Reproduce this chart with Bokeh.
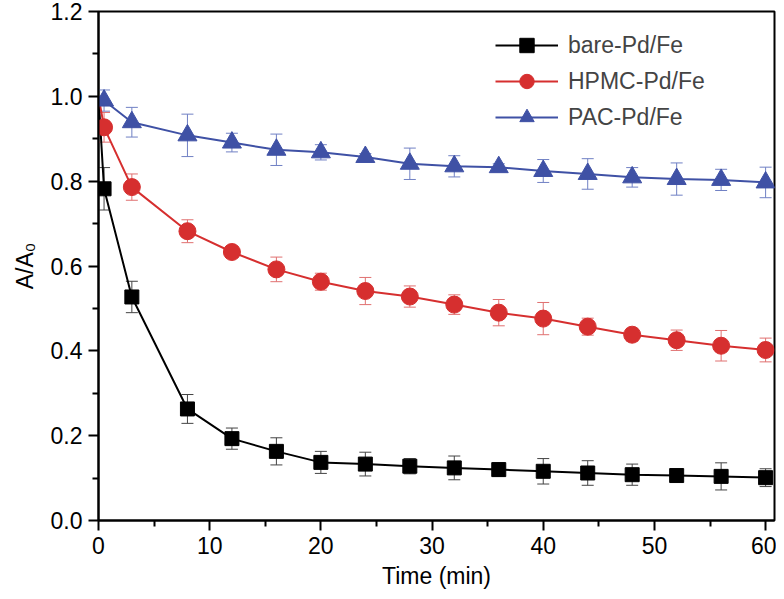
from bokeh.plotting import figure
from bokeh.models import (Range1d, FixedTicker, PrintfTickFormatter, Whisker, TeeHead,
                          ColumnDataSource, Legend, LegendItem)
from bokeh.embed import file_html
from bokeh.resources import INLINE

# ---------------- data ----------------
time = [0, 0.5, 3, 8, 12, 16, 20, 24, 28, 32, 36, 40, 44, 48, 52, 56, 60]

bare = [1.0, 0.782, 0.527, 0.263, 0.193, 0.163, 0.137, 0.133, 0.128, 0.124,
        0.120, 0.116, 0.112, 0.108, 0.106, 0.104, 0.101]
bare_err = [0, 0.050, 0.037, 0.034, 0.025, 0.032, 0.026, 0.028, 0.018, 0.028,
            0.016, 0.030, 0.029, 0.025, 0.005, 0.032, 0.021]

hpmc = [1.0, 0.927, 0.786, 0.682, 0.633, 0.592, 0.563, 0.541, 0.528, 0.509,
        0.490, 0.476, 0.457, 0.438, 0.425, 0.412, 0.402]
hpmc_err = [0, 0.035, 0.031, 0.027, 0.008, 0.029, 0.020, 0.032, 0.025, 0.023,
            0.031, 0.038, 0.020, 0.015, 0.024, 0.036, 0.028]

pac = [1.0, 0.990, 0.939, 0.908, 0.891, 0.874, 0.868, 0.857, 0.841, 0.835,
       0.833, 0.824, 0.817, 0.809, 0.805, 0.803, 0.797]
pac_err = [0, 0.025, 0.035, 0.050, 0.022, 0.037, 0.018, 0.008, 0.037, 0.025,
           0.008, 0.027, 0.036, 0.023, 0.038, 0.025, 0.036]

series_names = ["bare-Pd/Fe", "HPMC-Pd/Fe", "PAC-Pd/Fe"]

x_ticks = [0, 10, 20, 30, 40, 50, 60]
x_minor = [5, 15, 25, 35, 45, 55]
y_ticks = [0.0, 0.2, 0.4, 0.6, 0.8, 1.0, 1.2]
y_minor = [0.1, 0.3, 0.5, 0.7, 0.9, 1.1]

x_title = "Time (min)"
y_title = "A/A\u2080"

# ---------------- styling ----------------
FONT = "Liberation Sans"
FS = "23px"

p = figure(width=776, height=591, x_range=Range1d(0, 60.8), y_range=Range1d(0, 1.2),
           output_backend="svg", toolbar_location=None,
           min_border_left=98, min_border_right=2, min_border_top=11, min_border_bottom=71)
p.xgrid.visible = False
p.ygrid.visible = False
p.outline_line_color = "black"
p.outline_line_width = 2
p.outline_line_alpha = 1.0

for ax in (p.xaxis[0], p.yaxis[0]):
    ax.axis_line_width = 2
    ax.axis_line_color = "black"
    ax.major_tick_line_width = 2
    ax.minor_tick_line_width = 2
    ax.major_tick_line_color = "black"
    ax.minor_tick_line_color = "black"
    ax.major_tick_out = 10
    ax.major_tick_in = 0
    ax.minor_tick_out = 6
    ax.minor_tick_in = 0
    ax.major_label_text_font = FONT
    ax.major_label_text_font_size = FS
    ax.major_label_text_color = "black"
    ax.axis_label_text_font = FONT
    ax.axis_label_text_font_size = FS
    ax.axis_label_text_font_style = "normal"
    ax.axis_label_text_color = "black"
    ax.major_label_standoff = 6

p.xaxis[0].ticker = FixedTicker(ticks=x_ticks, minor_ticks=x_minor)
p.yaxis[0].ticker = FixedTicker(ticks=y_ticks, minor_ticks=y_minor)
p.yaxis[0].formatter = PrintfTickFormatter(format="%.1f")
p.xaxis[0].axis_label = x_title
p.yaxis[0].axis_label = y_title
p.xaxis[0].axis_label_standoff = 6
p.yaxis[0].axis_label_standoff = 10

styles = [
    dict(color="black", err="#444444", marker="square", size=14),
    dict(color="#d62f2f", err="#e07070", marker="circle", size=17),
    dict(color="#3f51a5", err="#7080c4", marker="triangle", size=19),
]
values = [bare, hpmc, pac]
errors = [bare_err, hpmc_err, pac_err]

items = []
for name, vals, errs, st in zip(series_names, values, errors, styles):
    src = ColumnDataSource(dict(
        x=time[1:], y=vals[1:],
        upper=[v + e for v, e in zip(vals[1:], errs[1:])],
        lower=[v - e for v, e in zip(vals[1:], errs[1:])],
    ))
    w = Whisker(base="x", upper="upper", lower="lower", source=src,
                line_color=st["err"], line_width=1,
                upper_head=TeeHead(size=12, line_color=st["err"], line_width=1),
                lower_head=TeeHead(size=12, line_color=st["err"], line_width=1))
    p.add_layout(w)
    ln = p.line(time, vals, line_color=st["color"], line_width=2)
    sc = p.scatter("x", "y", source=src, marker=st["marker"], size=st["size"],
                   fill_color=st["color"], line_color=st["color"])
    items.append(LegendItem(label=name, renderers=[ln, sc]))

legend = Legend(items=items, location=(397, 385), border_line_color=None,
                background_fill_alpha=0, label_text_font=FONT, label_text_font_size=FS,
                glyph_width=63, glyph_height=36, label_height=36, spacing=-3,
                padding=0, margin=0, label_standoff=10)
p.add_layout(legend)

open("out.html", "w").write(file_html(p, INLINE))
